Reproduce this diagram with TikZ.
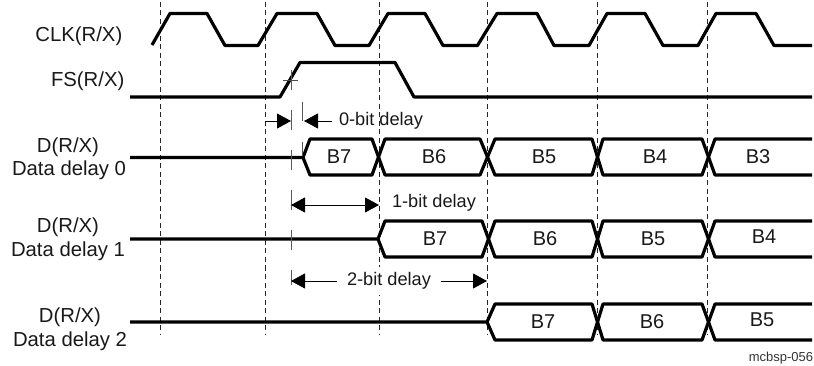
\documentclass[tikz,border=0pt]{standalone}
\usepackage{fontspec}
\setmainfont{Liberation Sans}
\usetikzlibrary{arrows.meta}
\tikzset{
  x=1pt,y=-1pt,
  wave/.style={line width=3.2pt,line join=round,black},
  grid/.style={line width=0.8pt,dash pattern=on 5pt off 3.5pt,black!85},
  tick/.style={line width=0.9pt,black!65},
  dim/.style={line width=0.8pt,black},
  head/.style={-{Triangle[length=14pt,width=15pt]}},
  lab/.style={font=\fontsize{20.3}{22}\selectfont,inner sep=0pt,text=black!90},
  bit/.style={font=\fontsize{20}{22}\selectfont,inner sep=0pt,text=black!90},
  dimtxt/.style={font=\fontsize{18.2}{20}\selectfont,inner sep=0pt,text=black!90},
}
\begin{document}
\begin{tikzpicture}
\useasboundingbox (0,0) rectangle (814,366);
% reference grid
\foreach \gx in {160,265,379,487,597,707}{\draw[grid] (\gx,2) -- (\gx,335);}
% CLK
\draw[wave] (152,45) -- (170,13.5) -- (207,13.5) -- (225,45.5) -- (258,45.5) -- (277,13.5) -- (317,13.5) -- (335,45.5) -- (369,45.5) -- (388,13.5) -- (425,13.5) -- (443,45.5) -- (477.5,45.5) -- (497,13.5) -- (537,13.5) -- (554,45.5) -- (589,45.5) -- (607,13.5) -- (645,13.5) -- (663,45.5) -- (698,45.5) -- (716,13.5) -- (756,13.5) -- (774,45.5) -- (812,45.5);
% FS
\draw[wave] (130,97) -- (280,97) -- (300,62.5) -- (395,62.5) -- (414,97) -- (812,97);
% D0
\draw[wave] (130,157.5) -- (303,157.5) -- (310,139) -- (372,139) -- (385,175) -- (480,175) -- (495,139) -- (592,139) -- (603,175) -- (702,175) -- (715,139) -- (812,139);
\draw[wave] (303,157.5) -- (310,175) -- (372,175) -- (385,139) -- (480,139) -- (495,175) -- (592,175) -- (603,139) -- (702,139) -- (715,175) -- (812,175);
% D1
\draw[wave] (130,239) -- (378,239) -- (385,221) -- (482,221) -- (495,257) -- (592,257) -- (603,221) -- (702,221) -- (715,257) -- (812,257);
\draw[wave] (378,239) -- (385,257) -- (482,257) -- (495,221) -- (592,221) -- (603,257) -- (702,257) -- (715,221) -- (812,221);
% D2
\draw[wave] (130,322) -- (487,322) -- (495,304) -- (592,304) -- (603,340) -- (702,340) -- (715,304) -- (812,304);
\draw[wave] (487,322) -- (495,340) -- (592,340) -- (603,304) -- (702,304) -- (715,340) -- (812,340);
% ticks
\draw[tick] (291,70) -- (291,90);
\draw[line width=0.8pt,black!70] (283,80) -- (298,80);
\draw[tick] (291,110) -- (291,130);
\draw[tick] (302.5,102) -- (302.5,121);
\draw[tick] (291,150) -- (291,170);
\draw[tick] (302.5,142) -- (302.5,156);
\draw[tick] (291,190) -- (291,210);
\draw[tick] (291,230) -- (291,250);
\draw[tick] (291,270) -- (291,285);
% coordinates
\coordinate (z0a) at (265,121); \coordinate (z0b) at (291,121);
\coordinate (z0c) at (332,121); \coordinate (z0d) at (304,121);
\coordinate (z1a) at (291,205); \coordinate (z1b) at (379,205);
\coordinate (z2a) at (291,281); \coordinate (z2b) at (487,281);
% delay dimensions
\draw[dim,head] (z0a) -- (z0b);
\draw[dim,head] (z0c) -- (z0d);
\draw[dim,{Triangle[length=14pt,width=15pt]}-{Triangle[length=14pt,width=15pt]}] (z1a) -- (z1b);
\node[dimtxt,fill=white,minimum height=28pt,minimum width=104pt] (d2) at (389,281) {2-bit delay};
\draw[dim,head] (d2.west) -- (z2a);
\draw[dim,head] (d2.east) -- (z2b);
\node[dimtxt] (d0) at (381,121) {0-bit delay};
\node[dimtxt] (d1) at (434,203) {1-bit delay};
% bits
\foreach \nm/\tx/\bx/\by in {a/B7/339/157,b/B6/434/157,c/B5/544/157,d/B4/655/157,e/B3/758/157,
  f/B7/435/239,g/B6/545/239,h/B5/653/239,i/B4/764/237,
  j/B7/543/322,k/B6/652/322,l/B5/762/320}{
  \node[bit] (\nm) at (\bx,\by) {\tx};
}
% signal labels
\node[lab,anchor=east] (clk) at (122.5,36) {CLK(R/X)};
\node[lab,anchor=east] (fs) at (124.5,81) {FS(R/X)};
\node[lab] (d0a) at (68,147) {D(R/X)};
\node[lab] (d0b) at (69,170) {Data delay 0};
\node[lab] (d1a) at (68,227) {D(R/X)};
\node[lab] (d1b) at (68,251) {Data delay 1};
\node[lab] (d2a) at (70,317) {D(R/X)};
\node[lab] (d2b) at (70,341) {Data delay 2};
\node[font=\fontsize{13}{14}\selectfont,inner sep=0pt,text=black!80] (id) at (781,358) {mcbsp-056};
\end{tikzpicture}
\end{document}
